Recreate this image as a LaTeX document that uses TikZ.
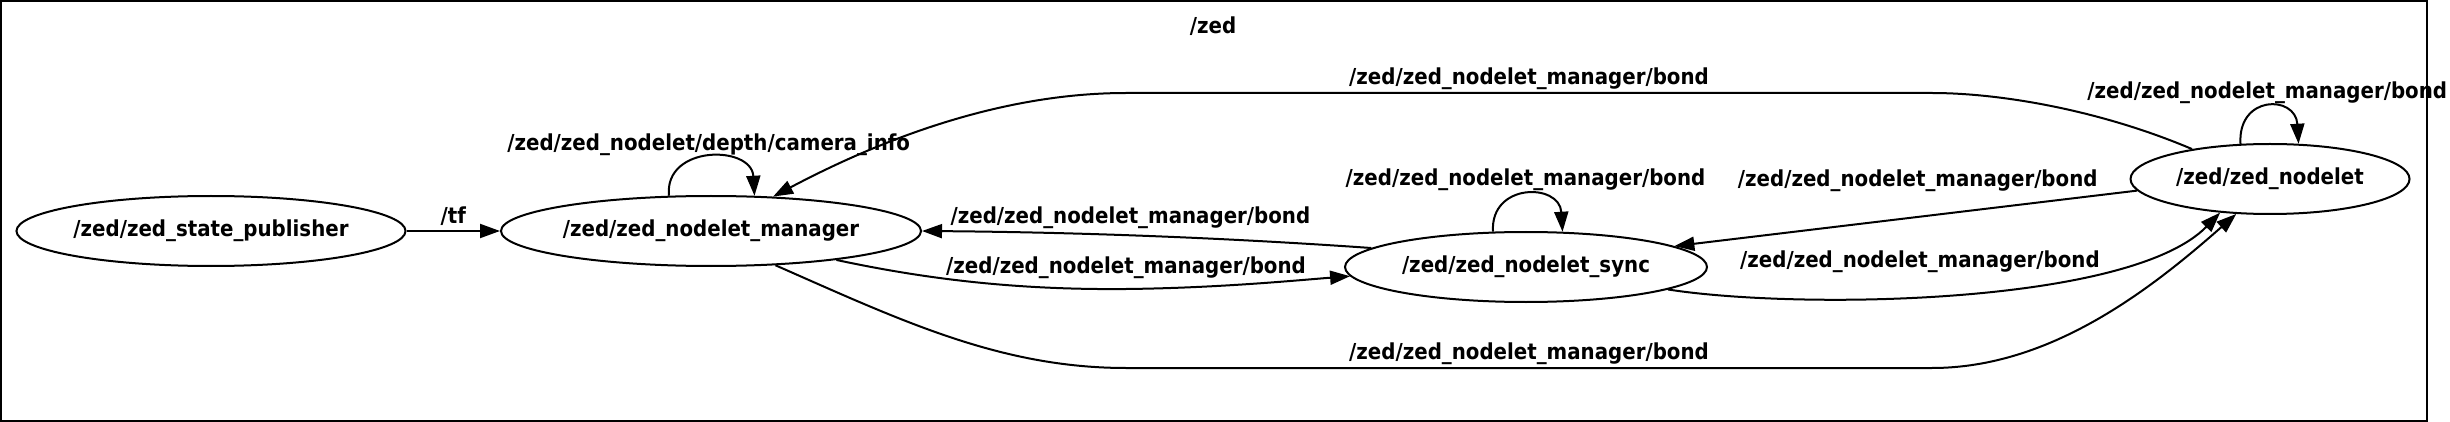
\documentclass[tikz,border=0pt]{standalone}
\usepackage{fontspec}
\newfontfamily\rosfont{DejaVu Sans}[FakeStretch=0.9]
\usetikzlibrary{arrows.meta, shapes.geometric}

\begin{document}
\begin{tikzpicture}[
		x=0.5pt, y=-0.5pt,
		font=\rosfont\bfseries\fontsize{11}{13}\selectfont,
		rosnode/.style={draw, ellipse, line width=1pt, inner sep=0pt, minimum height=35pt},
		topic/.style={inner sep=0pt},
		arrow/.style={->, >={Triangle[length=10pt, width=7pt]}, line width=1pt}
		]
		\useasboundingbox (0,0) rectangle (2450,422);
		% cluster /zed
		\draw[line width=1pt] (1,1) rectangle (2427,421);
		\node (zed) at (1213,26) {/zed};

		% ROS nodes
		\node[rosnode, minimum width=194pt] (pub) at (211,231) {/zed/zed\_state\_publisher};
		\node[rosnode, minimum width=210pt] (mgr) at (711,231) {/zed/zed\_nodelet\_manager};
		\node[rosnode, minimum width=181pt] (sync) at (1526,267) {/zed/zed\_nodelet\_sync};
		\node[rosnode, minimum width=139.5pt] (nodelet) at (2270,179) {/zed/zed\_nodelet};

		% topics
		\draw[arrow] (pub) -- node[topic, above=2pt] {/tf} (mgr);
		\draw[arrow] (mgr.140) .. controls +(-5,-51) and +(-3,-51) .. node[topic, above=0.4pt] {/zed/zed\_nodelet/depth/camera\_info} (mgr.39);
		\draw[arrow] (nodelet.159) .. controls (2100,110) and (2000,93) .. (1932,93) -- node[topic, above=1.4pt] {/zed/zed\_nodelet\_manager/bond} (1126,93) .. controls (1000,93) and (880,140) .. (mgr.29);
		\draw[arrow] (mgr.-28) .. controls (900,320) and (1000,368) .. (1126,368) -- node[topic, above=1.4pt] {/zed/zed\_nodelet\_manager/bond} (1932,368) .. controls (2050,368) and (2150,290) .. (nodelet.226);
		\draw[arrow] (sync.173.5) .. controls (1200,236) and (1050,232) .. node[topic, above=3pt] {/zed/zed\_nodelet\_manager/bond} (mgr.east);
		\draw[arrow] (mgr.-13.6) .. controls (930,280) and (1020,290) .. node[topic, pos=1, above=4.9pt] {/zed/zed\_nodelet\_manager/bond} (1126,289) .. controls (1220,288) and (1300,280) .. (sync.183.4);
		\draw[arrow] (sync.133) .. controls +(-3,-49) and +(-3,-49) .. node[topic, above=1.4pt] {/zed/zed\_nodelet\_manager/bond} (sync.44);
		\draw[arrow] (nodelet.185.5) -- node[topic, pos=.474, above=11.9pt] {/zed/zed\_nodelet\_manager/bond} (sync.8);
		\draw[arrow] (sync.-9.2) .. controls (1800,310) and (2130,305) .. node[topic, pos=.44, above=11.5pt] {/zed/zed\_nodelet\_manager/bond} (nodelet.214.4);
		\draw[arrow] (nodelet.130) .. controls +(-3,-49) and +(-3,-49) .. node[topic, above=1.4pt] {/zed/zed\_nodelet\_manager/bond} (nodelet.51);
	\end{tikzpicture}
\end{document}
